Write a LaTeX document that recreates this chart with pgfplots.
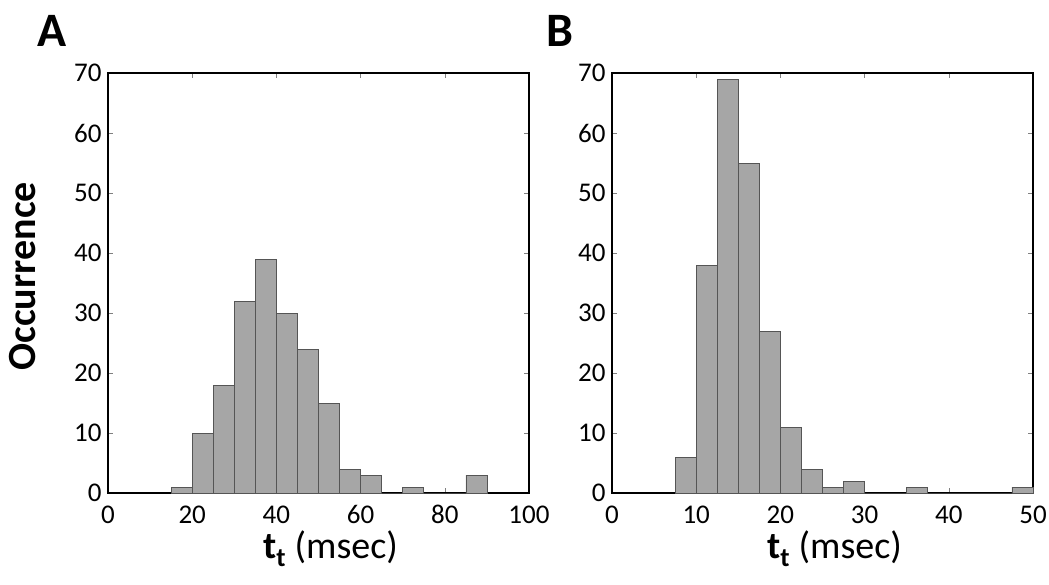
\documentclass[border=0pt]{standalone}
\usepackage{pgfplots}
\pgfplotsset{compat=1.18}
\usepackage{fontspec}
\setmainfont{Carlito}
\definecolor{barfill}{HTML}{A6A6A6}
\definecolor{baredge}{HTML}{555555}
\pgfplotsset{
  hist/.style={
    scale only axis,
    width=421pt, height=420pt,
    ymin=0, ymax=70, ytick={0,10,...,70},
    tick align=inside,
    major tick length=5pt,
    every tick/.style={gray, line width=0.6pt},
    axis line style={black, line width=1.6pt},
    tick label style={font=\fontsize{27}{30}\selectfont, black},
    xticklabel style={yshift=-9pt},
    yticklabel style={xshift=-3pt},
    /pgf/number format/assume math mode=true,
    xlabel={{\bfseries t\textsubscript{t}} (msec)},
    xlabel style={font=\fontsize{38}{42}\selectfont, at={(rel axis cs:0.5,0)}, anchor=center, yshift=-56pt, xshift=12pt},
    clip=false,
  }
}
\begin{document}
\begin{tikzpicture}[x=1pt,y=1pt]
\useasboundingbox (0,0) rectangle (1049,584);
\begin{axis}[hist, at={(108pt,91pt)}, anchor=south west,
  xmin=0, xmax=100, xtick={0,20,...,100},
  ylabel={\bfseries Occurrence},
  ylabel style={font=\fontsize{40}{44}\selectfont, at={(rel axis cs:-0.202,0.516)}, anchor=center}]
\addplot[ybar interval, fill=barfill, draw=baredge, line width=0.6pt] coordinates {
(15,1) (20,10) (25,18) (30,32) (35,39) (40,30) (45,24) (50,15) (55,4) (60,3) (65,0) (70,1) (75,0) (80,0) (85,3) (90,0)};
\node[font=\fontsize{48}{50}\selectfont\bfseries] at (rel axis cs:-0.133,1.10) {A};
\end{axis}
\begin{axis}[hist, at={(612pt,91pt)}, anchor=south west,
  xmin=0, xmax=50, xtick={0,10,...,50}]
\addplot[ybar interval, fill=barfill, draw=baredge, line width=0.6pt] coordinates {
(7.5,6) (10,38) (12.5,69) (15,55) (17.5,27) (20,11) (22.5,4) (25,1) (27.5,2) (30,0) (32.5,0) (35,1) (37.5,0) (40,0) (42.5,0) (45,0) (47.5,1) (50,1)};
\node[font=\fontsize{48}{50}\selectfont\bfseries] at (rel axis cs:-0.124,1.10) {B};
\end{axis}
\end{tikzpicture}
\end{document}
